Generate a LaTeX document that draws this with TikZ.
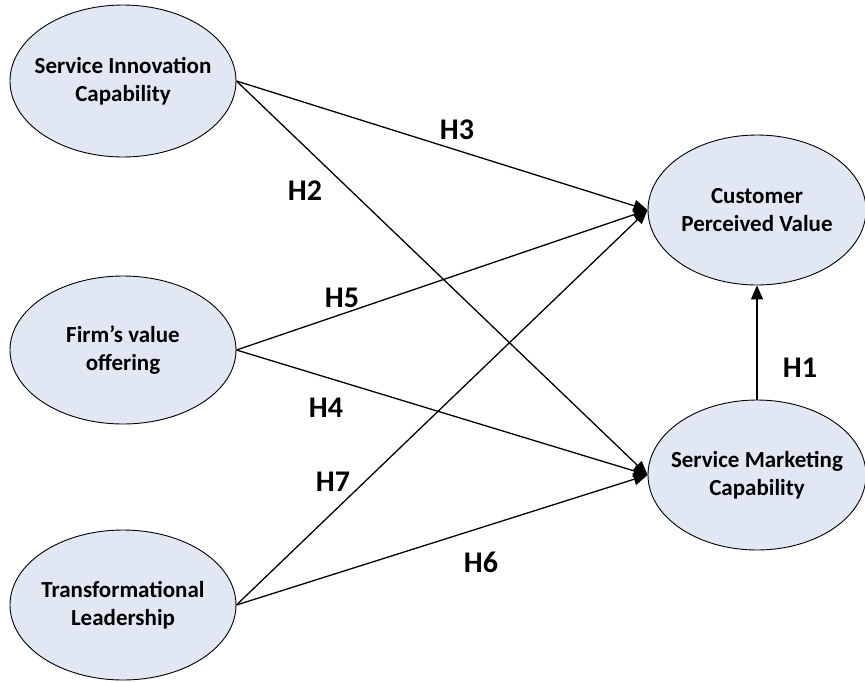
\documentclass[tikz,border=0pt]{standalone}
\usepackage{fontspec}
\setmainfont{Carlito}
\usetikzlibrary{shapes.geometric,arrows.meta}
\definecolor{ellfill}{HTML}{E1E8F4}
\tikzset{
  construct/.style={ellipse, draw=black, line width=0.9pt, fill=ellfill, inner sep=0pt},
  ctext/.style={align=center, inner sep=0pt, font=\fontsize{23}{28}\selectfont\bfseries},
  path/.style={draw=black, line width=1.3pt, -{Triangle[length=14pt,width=12pt]}},
  hlabel/.style={font=\fontsize{30}{32}\selectfont\bfseries, inner sep=0pt}
}
\begin{document}
\begin{tikzpicture}[x=1pt,y=-1pt]
\useasboundingbox (0,0) rectangle (865,681);
\node[construct, minimum width=226pt, minimum height=152pt] (SIC) at (123,81) {};
\node[construct, minimum width=226pt, minimum height=148pt] (FVO) at (123,350) {};
\node[construct, minimum width=226pt, minimum height=150pt] (TL) at (123,605) {};
\node[construct, minimum width=218pt, minimum height=150pt] (CPV) at (757,210) {};
\node[construct, minimum width=218pt, minimum height=150pt] (SMC) at (757,475) {};
\node[ctext] (SICt) at (SIC.center) {Service Innovation\\Capability};
\node[ctext] (FVOt) at (FVO.center) {Firm’s value\\offering};
\node[ctext] (TLt) at (TL.center) {Transformational\\Leadership};
\node[ctext] (CPVt) at (CPV.center) {Customer\\Perceived Value};
\node[ctext] (SMCt) at (SMC.center) {Service Marketing\\Capability};
\draw[path] (SIC.east) -- (CPV.west);
\draw[path] (SIC.east) -- (SMC.west);
\draw[path] (FVO.east) -- (CPV.west);
\draw[path] (FVO.east) -- (SMC.west);
\draw[path] (TL.east) -- (CPV.west);
\draw[path] (TL.east) -- (SMC.west);
\draw[path] (SMC.north) -- (CPV.south);
\node[hlabel] (h3) at (457,130) {H3};
\node[hlabel] (h2) at (305,191) {H2};
\node[hlabel] (h5) at (342,298) {H5};
\node[hlabel] (h4) at (326,408) {H4};
\node[hlabel] (h7) at (333,482) {H7};
\node[hlabel] (h6) at (481,562) {H6};
\node[hlabel] (h1) at (800,368) {H1};
\end{tikzpicture}
\end{document}
